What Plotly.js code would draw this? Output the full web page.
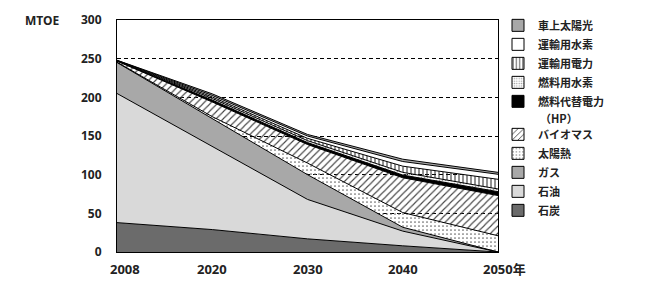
<!DOCTYPE html>
<html>
<head>
<meta charset="utf-8">
<script src="https://cdn.plot.ly/plotly-3.0.1.min.js"></script>
<style>html,body{margin:0;padding:0;background:#fff;}#chart{width:645px;height:290px;}</style>
</head>
<body>
<div id="chart"></div>
<script>
// Categories (years) and tick labels
const years = ['2008', '2020', '2030', '2040', '2050年'];
const xIndex = [0, 1, 2, 3, 4];

// Series values (MTOE), stacked bottom to top
const coal          = [38, 29, 17, 8, 0];      // 石炭
const oil           = [167, 108, 51, 19, 0];   // 石油
const gas           = [40, 35, 32, 5, 0];      // ガス
const solarHeat     = [0.5, 3, 15, 19, 21];    // 太陽熱
const biomass       = [1.3, 19, 24, 45, 52];   // バイオマス
const heatPump      = [0.4, 2.5, 2.5, 3.5, 5]; // 燃料代替電力（HP）
const fuelH2        = [0.2, 2, 2.5, 3.5, 3.5]; // 燃料用水素
const transElec     = [0.2, 2, 3, 8, 12.5];    // 運輸用電力
const transH2       = [0.2, 2, 3, 6, 6.5];     // 運輸用水素
const onboardSolar  = [0.2, 2, 2, 3, 2.5];     // 車上太陽光

const yTicks = [0, 50, 100, 150, 200, 250, 300];

const series = [
  {name: '石炭', y: coal, fill: '#6b6b6b'},
  {name: '石油', y: oil, fill: '#d9d9d9'},
  {name: 'ガス', y: gas, fill: '#a8a8a8'},
  {name: '太陽熱', y: solarHeat, fill: '#ffffff', pattern: {shape: '.', size: 4, solidity: 0.15, fgcolor: '#666'}},
  {name: 'バイオマス', y: biomass, fill: '#ffffff', pattern: {shape: '/', size: 5, solidity: 0.22, fgcolor: '#444'}},
  {name: '燃料代替電力', y: heatPump, fill: '#000000'},
  {name: '燃料用水素', y: fuelH2, fill: '#ffffff', pattern: {shape: '.', size: 3, solidity: 0.25, fgcolor: '#999'}},
  {name: '運輸用電力', y: transElec, fill: '#ffffff', pattern: {shape: '|', size: 4, solidity: 0.25, fgcolor: '#222'}},
  {name: '運輸用水素', y: transH2, fill: '#ffffff'},
  {name: '車上太陽光', y: onboardSolar, fill: '#a8a8a8'}
];

const traces = [];
series.forEach(s => {
  const t = {
    type: 'scatter', mode: 'lines', x: xIndex, y: s.y,
    stackgroup: 'one', name: s.name, showlegend: false,
    line: {color: '#000', width: 1}, hoverinfo: 'skip'
  };
  if (s.pattern) {
    t.fillcolor = 'rgba(0,0,0,0)';
    t.fillpattern = Object.assign({bgcolor: 'rgba(0,0,0,0)', fillmode: 'replace'}, s.pattern);
  } else {
    t.fillcolor = s.fill;
  }
  traces.push(t);
});

// legend entries (top to bottom)
const legendOrder = series.slice().reverse();
legendOrder.forEach((s, i) => {
  const group = i < 5 ? 'a' : 'b';
  const m = {color: s.fill, line: {color: '#000', width: 1}};
  if (s.pattern) m.pattern = {shape: s.pattern.shape, size: s.pattern.size, solidity: s.pattern.solidity, fgcolor: s.pattern.fgcolor, bgcolor: '#fff', fillmode: 'replace'};
  traces.push({type: 'bar', x: [null], y: [null], name: s.name, marker: m, legendgroup: group, showlegend: true, hoverinfo: 'skip'});
});

const tickFont = {family: 'Noto Sans, sans-serif', size: 12, color: '#222', weight: 'bold'};
const annotations = years.map((yr, i) => ({
  text: yr, x: i, xref: 'x', y: 0, yref: 'paper', yanchor: 'top', xanchor: 'center',
  yshift: -6, xshift: i === 0 ? 8 : (i === years.length - 1 ? 6 : 0),
  showarrow: false, font: {family: 'Noto Sans, Noto Sans CJK JP, sans-serif', size: 13, color: '#222', weight: 'bold'}
}));
annotations.push({text: 'MTOE', x: -0.247, xref: 'paper', y: 1, yref: 'paper', xanchor: 'left', yanchor: 'middle', showarrow: false, font: tickFont});
annotations.push({text: '（HP）', x: 1.105, xref: 'paper', y: 0.578, yref: 'paper', xanchor: 'left', yanchor: 'middle', showarrow: false,
  font: {family: 'Noto Sans CJK JP, sans-serif', size: 11, color: '#222', weight: 'bold'}});

const layout = {
  width: 645, height: 290,
  margin: {l: 117, r: 147, t: 19, b: 38, pad: 0},
  paper_bgcolor: '#fff', plot_bgcolor: '#fff',
  showlegend: true,
  legend: {x: 1.0, y: 1.035, xanchor: 'left', yanchor: 'top', traceorder: 'grouped', tracegroupgap: 14, maxheight: 285,
    font: {family: 'Noto Sans CJK JP, sans-serif', size: 11, color: '#222', weight: 'bold'}, bgcolor: 'rgba(0,0,0,0)'},
  xaxis: {range: [0, 4], showgrid: false, zeroline: false, showline: true, mirror: true, linecolor: '#000', linewidth: 1,
    ticks: '', showticklabels: false, fixedrange: true},
  yaxis: {range: [0, 300], tickvals: yTicks, showgrid: true, gridcolor: '#000', gridwidth: 1, griddash: '4px,3px',
    zeroline: false, showline: true, mirror: true, linecolor: '#000', linewidth: 1, ticks: '', ticklabelstandoff: 12,
    tickfont: tickFont, fixedrange: true},
  annotations: annotations
};

Plotly.newPlot('chart', traces, layout, {staticPlot: true, displayModeBar: false});
</script>
</body>
</html>
